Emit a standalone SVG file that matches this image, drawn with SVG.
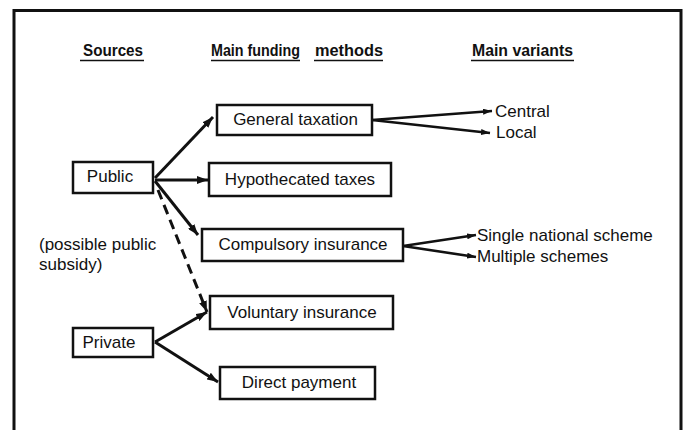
<svg xmlns="http://www.w3.org/2000/svg" width="685" height="430" viewBox="0 0 685 430">
<style>
.t{font-family:"Liberation Sans",Arial,sans-serif;font-size:17px;fill:#111}
.h{font-family:"Liberation Sans",Arial,sans-serif;font-size:16px;font-weight:bold;fill:#111}
.box{fill:#fff;stroke:#111;stroke-width:2.5}
.ul{stroke:#111;stroke-width:1.6}
.c{stroke:#111;stroke-width:3;fill:none;marker-end:url(#ah)}
.v{stroke:#111;stroke-width:2.6;fill:none;marker-end:url(#as)}
.d{stroke:#111;stroke-width:3;fill:none;stroke-dasharray:10 6;marker-end:url(#ah)}
</style>
<defs>
<marker id="ah" markerUnits="userSpaceOnUse" markerWidth="12" markerHeight="8" refX="11" refY="4" orient="auto"><path d="M0,0 L11,4 L0,8 z" fill="#111"/></marker>
<marker id="as" markerUnits="userSpaceOnUse" markerWidth="10" markerHeight="6" refX="9" refY="3" orient="auto"><path d="M0,0 L9,3 L0,6 z" fill="#111"/></marker>
</defs>
<rect width="685" height="430" fill="#fff"/>
<path d="M14,430 L14,10.5 L681,10.5 L681,430" fill="none" stroke="#111" stroke-width="3"/>
<g id="headers">
<text class="h" x="83" y="56" textLength="60" lengthAdjust="spacingAndGlyphs">Sources</text>
<line class="ul" x1="80" y1="60.5" x2="144" y2="60.5"/>
<text class="h" x="211" y="56" textLength="89" lengthAdjust="spacingAndGlyphs">Main funding</text>
<line class="ul" x1="211" y1="60.5" x2="300" y2="60.5"/>
<text class="h" x="315" y="56" textLength="68" lengthAdjust="spacingAndGlyphs">methods</text>
<line class="ul" x1="314" y1="60.5" x2="383" y2="60.5"/>
<text class="h" x="472" y="56" textLength="101" lengthAdjust="spacingAndGlyphs">Main variants</text>
<line class="ul" x1="471" y1="60.5" x2="574" y2="60.5"/>
</g>
<g id="connectors">
<line class="c" x1="155" y1="178" x2="213" y2="117"/>
<line class="c" x1="155" y1="180" x2="208" y2="180"/>
<line class="c" x1="155" y1="181" x2="198" y2="235"/>
<line class="d" x1="158" y1="190" x2="207" y2="312"/>
<line class="c" x1="155" y1="342" x2="207" y2="312"/>
<line class="c" x1="155" y1="342" x2="218" y2="382"/>
<line class="v" x1="372" y1="120" x2="492" y2="111"/>
<line class="v" x1="372" y1="120" x2="490" y2="133"/>
<line class="v" x1="403" y1="246" x2="476" y2="235"/>
<line class="v" x1="403" y1="246" x2="476" y2="257"/>
</g>
<g id="public"><rect class="box" x="73" y="162" width="80" height="31"/><text class="t" x="110" y="182" text-anchor="middle">Public</text></g>
<g id="private"><rect class="box" x="73" y="328" width="80" height="29"/><text class="t" x="109" y="348" text-anchor="middle">Private</text></g>
<g id="general"><rect class="box" x="217" y="105" width="155" height="30"/><text class="t" x="295.5" y="125" text-anchor="middle">General taxation</text></g>
<g id="hypothecated"><rect class="box" x="209" y="163" width="182" height="33"/><text class="t" x="300" y="185" text-anchor="middle">Hypothecated taxes</text></g>
<g id="compulsory"><rect class="box" x="202" y="229" width="201" height="32"/><text class="t" x="303" y="250" text-anchor="middle">Compulsory insurance</text></g>
<g id="voluntary"><rect class="box" x="210" y="296" width="183" height="33"/><text class="t" x="302" y="318" text-anchor="middle">Voluntary insurance</text></g>
<g id="direct"><rect class="box" x="220" y="367" width="155" height="32"/><text class="t" x="299" y="388" text-anchor="middle">Direct payment</text></g>
<g id="variants">
<text class="t" x="495" y="117">Central</text>
<text class="t" x="496" y="138">Local</text>
<text class="t" x="477" y="241">Single national scheme</text>
<text class="t" x="477" y="262">Multiple schemes</text>
</g>
<g id="subsidy-label">
<text class="t" x="39" y="250">(possible public</text>
<text class="t" x="39" y="270">subsidy)</text>
</g>
</svg>
